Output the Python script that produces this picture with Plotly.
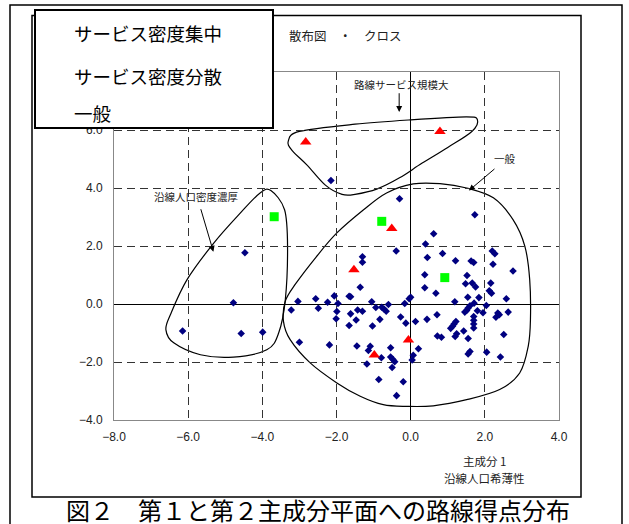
import plotly.graph_objects as go

# ---------------- data ----------------
blue_x = [-6.15, -4.78, -4.57, -3.99, -4.47,
          -2.15,
          -0.30, 1.73, 0.62, 0.40, -0.39, -1.30, -1.30, 0.45, 0.86, 1.21, 1.63, 1.70,
          2.20, 2.27, 2.22, 2.76, 0.38, 1.52, 0.38, 0.68, 1.48, 1.66, 1.75, 2.16,
          2.12, 2.18, -1.36, 2.58, 1.84, 1.54, 1.19, 1.71, 1.60, 1.55, 1.51, 1.46,
          1.80, 1.95, 2.04, 2.35, 2.39, 2.30, 2.63, 1.70, 1.70, 1.70, 1.70, 1.22,
          1.17, 1.13, 1.08, 1.20, 1.24, 1.43, 1.55, 0.72, 0.83, 0.71, 0.44, 0.13,
          0.00, -0.16, -0.27, -0.13, 2.51, 1.60, 1.55, 2.05, 2.42, 0.21, 0.07, 0.04,
          -0.20, -0.38, -0.86, -0.50, -0.43, -0.48, -0.54, -0.79, -0.54, -1.18,
          -1.09, -1.14, -1.45, -2.19, -3.00, -3.22, -3.04, -2.56, -2.49, -2.24,
          -2.06, -1.96, -1.99, -2.01, -1.66, -1.62, -1.62, -1.43, -1.30, -1.47,
          -1.66, -1.05, -0.94, -0.78, -0.72, -0.66, -0.60, -0.83, -1.03, -0.04]
blue_y = [-0.93, 0.04, -1.02, -0.97, 1.77,
          4.26,
          3.63, 3.08, 2.42, 2.07, 1.83, 1.63, 1.44, 1.60, 1.74, 1.49, 1.48, 1.43,
          1.83, 1.73, 1.37, 1.14, 1.01, 0.98, 0.56, 0.37, 0.70, 0.72, 0.59, 0.72,
          0.46, 0.37, 0.58, 0.18, 0.22, 0.23, 0.08, 0.03, -0.06, -0.14, -0.22, -0.28,
          -0.23, -0.30, -0.05, -0.31, -0.37, -0.46, -0.28, -0.43, -0.56, -0.69, -0.83, -0.60,
          -0.69, -0.77, -0.84, -1.12, -1.03, -0.93, -1.19, -1.10, -1.15, -0.37, -0.53, -0.60,
          0.23, 0.02, -0.45, -0.66, -1.05, -1.64, -1.72, -1.66, -1.83, -1.54, -1.77, -1.93,
          -2.68, -3.16, -2.60, -2.19, -1.99, -1.91, -1.83, -1.85, -1.51, -2.07,
          -1.46, -1.60, -1.45, -1.41, -1.32, -0.21, 0.09, 0.18, -0.15, 0.06,
          0.28, 0.02, -0.26, -0.51, 0.27, 0.25, -0.34, -0.21, -0.25, -0.55,
          -0.74, 0.08, -0.12, -0.11, -0.17, -0.25, -0.02, -0.53, -0.76, 0.18]

red_x = [-2.83, 0.79, -0.51, -1.53, -0.06, -0.98]
red_y = [5.59, 5.95, 2.60, 1.18, -1.24, -1.76]

green_x = [-3.68, -0.78, 0.92]
green_y = [3.01, 2.85, 0.91]

legend_labels = ["サービス密度集中", "サービス密度分散", "一般"]
x_ticks = [-8, -6, -4, -2, 0, 2, 4]
y_ticks = [-4, -2, 0, 2, 4, 6, 8]

# outline (annotation) curves
top_cx = [-3.30, -3.00, -1.50, 0.00, 1.50, 1.80, 1.65, 1.00, 0.30, -0.30, -0.90, -1.50, -1.85, -2.30, -2.80, -3.20]
top_cy = [5.62, 5.95, 6.20, 6.35, 6.45, 6.35, 5.95, 5.40, 4.85, 4.35, 3.97, 3.78, 3.78, 4.10, 4.80, 5.30]
left_cx = [-3.77, -3.40, -3.32, -3.38, -3.56, -3.88, -4.78, -5.67, -6.39, -6.60, -6.48, -6.03, -5.31, -4.59, -4.06]
left_cy = [3.91, 3.25, 1.99, 0.15, -1.00, -1.58, -1.83, -1.75, -1.34, -0.89, -0.37, 0.84, 2.10, 3.14, 3.83]
main_cx = [0.07, 0.79, 1.51, 2.23, 2.76, 3.08, 3.21, 3.23, 3.17, 2.94, 2.40, 1.51, 0.61, -0.11, -0.74,
           -1.36, -1.99, -2.71, -3.25, -3.43, -3.38, -3.10, -2.55, -1.99, -1.27, -0.65]
main_cy = [4.14, 4.15, 4.00, 3.66, 2.91, 1.99, 0.84, -0.54, -1.46, -2.38, -2.95, -3.30, -3.51, -3.53, -3.47,
           -3.18, -2.72, -2.03, -1.23, -0.60, 0.10, 0.70, 1.62, 2.45, 3.25, 3.83]


def closed_path(xs, ys, t=1.0 / 6.0):
    n = len(xs)
    d = "M %.3f,%.3f" % (xs[0], ys[0])
    for i in range(n):
        p0 = (xs[i - 1], ys[i - 1])
        p1 = (xs[i], ys[i])
        p2 = (xs[(i + 1) % n], ys[(i + 1) % n])
        p3 = (xs[(i + 2) % n], ys[(i + 2) % n])
        c1 = (p1[0] + (p2[0] - p0[0]) * t, p1[1] + (p2[1] - p0[1]) * t)
        c2 = (p2[0] - (p3[0] - p1[0]) * t, p2[1] - (p3[1] - p1[1]) * t)
        d += " C %.3f,%.3f %.3f,%.3f %.3f,%.3f" % (c1[0], c1[1], c2[0], c2[1], p2[0], p2[1])
    return d + " Z"


W, H = 629, 524
ML, MR, MT, MB = 114, 70, 72, 104
PW, PH = W - ML - MR, H - MT - MB


def px(x):
    return (x - ML) / PW


def py(y):
    return (H - MB - y) / PH


JP = "Noto Sans CJK JP"
fig = go.Figure()

fig.add_trace(go.Scatter(x=blue_x, y=blue_y, mode="markers",
                         marker=dict(symbol="diamond", size=5.8, color="#000080"),
                         name=legend_labels[2]))
fig.add_trace(go.Scatter(x=red_x, y=red_y, mode="markers",
                         marker=dict(symbol="triangle-up", size=10, color="#ff0000"),
                         name=legend_labels[0]))
fig.add_trace(go.Scatter(x=green_x, y=green_y, mode="markers",
                         marker=dict(symbol="square", size=9, color="#00ff00"),
                         name=legend_labels[1]))

shapes = []
for cx, cy in [(top_cx, top_cy), (left_cx, left_cy), (main_cx, main_cy)]:
    shapes.append(dict(type="path", xref="x", yref="y", path=closed_path(cx, cy),
                       line=dict(color="black", width=1.2), layer="below"))

# outer frame, chart frame, legend box
shapes.append(dict(type="rect", xref="paper", yref="paper", x0=px(10), x1=px(622), y0=py(540), y1=py(5),
                   line=dict(color="black", width=1.5), layer="below"))
shapes.append(dict(type="rect", xref="paper", yref="paper", x0=px(32), x1=px(581), y0=py(497), y1=py(15.5),
                   line=dict(color="black", width=1.5), layer="below"))
shapes.append(dict(type="rect", xref="paper", yref="paper", x0=px(35), x1=px(273), y0=py(128), y1=py(10),
                   line=dict(color="black", width=2), fillcolor="white", layer="above"))

ann = []
for lab, yy in zip(legend_labels, [33, 76, 113]):
    ann.append(dict(text=lab, xref="paper", yref="paper", x=px(72), y=py(yy), xanchor="left",
                    yanchor="middle", showarrow=False, font=dict(family=JP, size=18.5, color="black")))

ann.append(dict(text="散布図　・　クロス", xref="paper", yref="paper", x=px(287), y=py(35),
                xanchor="left", yanchor="middle", showarrow=False,
                font=dict(family=JP, size=12.5, color="#222")))
ann.append(dict(text="主成分 1", xref="paper", yref="paper", x=px(484), y=py(461),
                xanchor="center", yanchor="middle", showarrow=False,
                font=dict(family=JP, size=11.5, color="#222")))
ann.append(dict(text="沿線人口希薄性", xref="paper", yref="paper", x=px(484), y=py(478),
                xanchor="center", yanchor="middle", showarrow=False,
                font=dict(family=JP, size=11.5, color="#222")))
ann.append(dict(text="図２　第１と第２主成分平面への路線得点分布", xref="paper", yref="paper",
                x=px(318), y=py(509), xanchor="center", yanchor="middle", showarrow=False,
                font=dict(family=JP, size=24, color="black")))

# callouts
ann.append(dict(text="路線サービス規模大", x=-0.26, y=7.56, xref="x", yref="y", showarrow=False,
                font=dict(family=JP, size=10.5, color="#222")))
ann.append(dict(text="", x=-0.31, y=6.62, ax=-0.31, ay=7.32, xref="x", yref="y", axref="x", ayref="y",
                showarrow=True, arrowhead=2, arrowsize=1.2, arrowwidth=1, arrowcolor="black"))
ann.append(dict(text="一般", x=2.54, y=5.01, xref="x", yref="y", showarrow=False,
                font=dict(family=JP, size=10.5, color="#222")))
ann.append(dict(text="", x=1.57, y=3.91, ax=2.30, ay=4.70, xref="x", yref="y", axref="x", ayref="y",
                showarrow=True, arrowhead=2, arrowsize=1.2, arrowwidth=1, arrowcolor="black"))
ann.append(dict(text="沿線人口密度濃厚", x=-5.78, y=3.70, xref="x", yref="y", showarrow=False,
                font=dict(family=JP, size=10.5, color="#222")))
ann.append(dict(text="", x=-5.32, y=1.80, ax=-5.67, ay=3.32, xref="x", yref="y", axref="x", ayref="y",
                showarrow=True, arrowhead=2, arrowsize=1.2, arrowwidth=1, arrowcolor="black"))

axis_common = dict(showgrid=True, gridcolor="#333", griddash="8px,5px", gridwidth=1,
                   zeroline=True, zerolinecolor="black", zerolinewidth=1.2,
                   showline=True, mirror=True, linecolor="#888", linewidth=1,
                   ticks="", tickformat=".1f",
                   tickfont=dict(family="Liberation Sans", size=12, color="#222"))

fig.update_layout(
    width=W, height=H,
    margin=dict(l=ML, r=MR, t=MT, b=MB, pad=0),
    paper_bgcolor="white", plot_bgcolor="white",
    showlegend=False,
    shapes=shapes, annotations=ann,
    xaxis=dict(range=[-8, 4], tickvals=x_ticks, ticklabelstandoff=6, **axis_common),
    yaxis=dict(range=[-4, 8], tickvals=y_ticks, ticklabelstandoff=8, **axis_common),
)

fig.write_html("out.html", config={"displayModeBar": False},
               post_script="document.body.style.margin='0';document.body.style.padding='0';"
                           "document.body.style.overflow='hidden';")
